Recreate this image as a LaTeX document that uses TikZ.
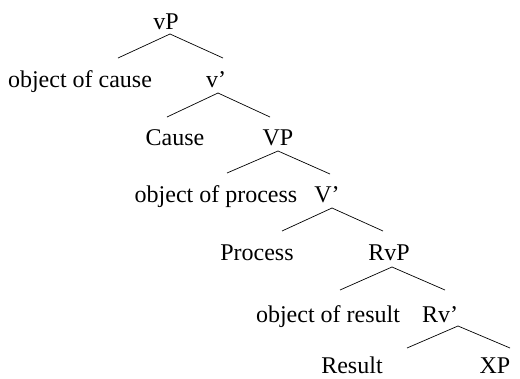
\documentclass[tikz,border=0pt]{standalone}
\usepackage{fontspec}
\setmainfont{Liberation Serif}
\begin{document}
\begin{tikzpicture}[x=1pt,y=-1pt,line width=0.7pt,
  lbl/.style={font=\fontsize{24pt}{28pt}\selectfont,inner sep=0pt,anchor=base}]
\useasboundingbox (0,0) rectangle (520,378);
\node[lbl] (vP) at (166,29) {vP};
\node[lbl] (objc) at (80,87) {object of cause};
\node[lbl] (v1) at (216,87) {v’};
\node[lbl] (cause) at (175,145) {Cause};
\node[lbl] (VP) at (278,145) {VP};
\node[lbl] (objp) at (216,202) {object of process};
\node[lbl] (V1) at (327,202) {V’};
\node[lbl] (process) at (257,260) {Process};
\node[lbl] (RvP) at (389,260) {RvP};
\node[lbl] (objr) at (328,322) {object of result};
\node[lbl] (Rv1) at (440,322) {Rv’};
\node[lbl] (result) at (352,373) {Result};
\node[lbl] (XP) at (495,373) {XP};
\draw ([shift={(4,5)}]vP.base) -- +(-52,24);
\draw ([shift={(4,5)}]vP.base) -- +(53,24);
\draw ([shift={(2,6)}]v1.base) -- +(-51,24);
\draw ([shift={(2,6)}]v1.base) -- +(52,24);
\draw ([shift={(0,6)}]VP.base) -- +(-51,22);
\draw ([shift={(0,6)}]VP.base) -- +(52,23);
\draw ([shift={(5,6)}]V1.base) -- +(-50,23);
\draw ([shift={(5,6)}]V1.base) -- +(51,23);
\draw ([shift={(3,7)}]RvP.base) -- +(-52,23);
\draw ([shift={(3,7)}]RvP.base) -- +(53,23);
\draw ([shift={(18,4)}]Rv1.base) -- +(-51,22);
\draw ([shift={(18,4)}]Rv1.base) -- +(52,22);
\end{tikzpicture}
\end{document}
